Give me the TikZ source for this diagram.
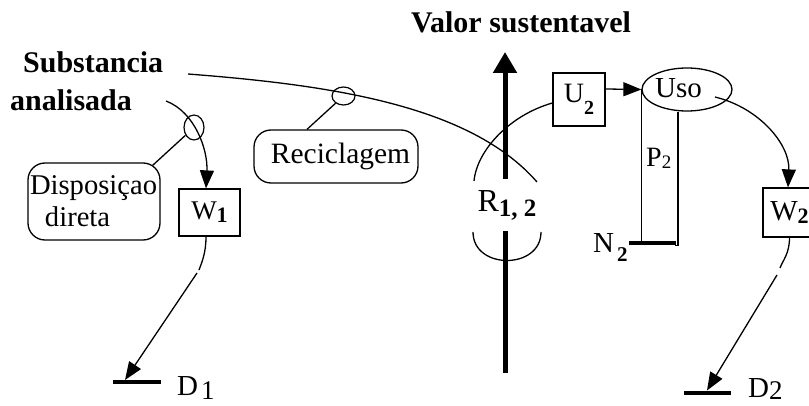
\documentclass[tikz,border=0pt]{standalone}
\usepackage{fontspec}
\setmainfont{Liberation Serif}
\usetikzlibrary{arrows.meta,shapes.geometric}
\newcommand\fsz[1]{\fontsize{#1}{#1}\selectfont}
\begin{document}
\begin{tikzpicture}[x=1pt,y=-1pt,
  thinline/.style={line width=1.3pt},
  arr/.style={line width=1.3pt,-{Triangle[length=18pt,width=14pt]}},
  box/.style={draw,line width=1.2pt,inner sep=0pt},
  rbox/.style={draw,line width=1.3pt,rounded corners=17pt,inner sep=0pt},
  ring/.style={draw,ellipse,line width=1.2pt,inner sep=0pt},
  bar/.style={line width=4.5pt},
  lbl/.style={inner sep=0pt,font=\fsz{29}},
  blbl/.style={inner sep=0pt,font=\fsz{30}\bfseries}]
\useasboundingbox (0,0) rectangle (809,406);
\clip (0,0) rectangle (809,406);
% titles
\node[blbl,anchor=base west] (subst) at (23,73) {Substancia};
\node[blbl,anchor=base west] (anal) at (10,111) {analisada};
\node[blbl,anchor=base west] (valor) at (411,33) {Valor sustentavel};
% boxes
\node[rbox,minimum width=132,minimum height=77,text width=132,align=left,
      font=\fontsize{28.6}{32}\selectfont] (disp) at (94,201.5)
      {\hspace*{2pt}Disposiçao\\\hspace*{17pt}direta};
\node[rbox,minimum width=164,minimum height=53] (recic) at (336,156.5)
      {\hspace*{9pt}\raisebox{-2pt}{\fsz{29.5}Reciclagem}};
\node[box,minimum width=61,minimum height=47] (w1) at (209.5,212.5)
      {{\fsz{27}W}\raisebox{-3pt}{\fsz{22}\bfseries 1}};
\node[box,minimum width=53,minimum height=49] (w2) at (789.5,212.5)
      {{\fsz{29}W}\raisebox{-3pt}{\fsz{22}\bfseries 2}};
\node[box,minimum width=52,minimum height=53] (u2) at (579,99.5)
      {{\fsz{28}U}\raisebox{-12pt}{\fsz{20}\bfseries 2}};
\node[ring,line width=1.3pt,minimum width=90,minimum height=43] (uso) at (687,89.5) {};
\node[lbl,anchor=base west] (usot) at (655,98) {Uso};
\node[ring,minimum width=20,minimum height=25] (c1) at (194,127.5) {};
\node[ring,minimum width=23,minimum height=18] (c2) at (343.5,96) {};
% labels
\node[inner sep=0pt,minimum height=52] (r12) at (507,205)
      {{\fsz{32}R}\raisebox{-5pt}{\fsz{25}\bfseries 1, 2}};
\node[inner sep=0pt,anchor=base west] (p2) at (646,167)
      {{\fsz{28}P}\raisebox{-2pt}{\fsz{19}2}};
\node[lbl,anchor=base west] (n2) at (593,253)
      {N\hspace{3pt}\raisebox{-9pt}{\fsz{21}\bfseries 2}};
\node[lbl,anchor=base west] (d1) at (177,395)
      {D\hspace{3pt}\raisebox{-4pt}{\fsz{27}1}};
\node[lbl,anchor=base west] (d2) at (748,397)
      {D\raisebox{-2pt}{\fsz{27}2}};
% coordinates
\coordinate (s0) at (188,74);
\coordinate (a0) at (166,101);
\coordinate (vb) at (505,373);
\coordinate (vt) at (505,52);
\coordinate (usoout) at (715,97);
\coordinate (w1brk) at (199,270);
\coordinate (w1go) at (197,273);
\coordinate (d1g) at (125,380);
\coordinate (w2brk) at (780,268);
\coordinate (w2go) at (777,275);
\coordinate (d2g) at (707,390.5);
\coordinate (nL) at (629,243);
\coordinate (nR) at (676,243);
% main curve from Substancia
\draw[thinline] (s0) .. controls (330,85) and (470,105) .. (537,182);
\draw[thinline] (c2) -- ([xshift=-29pt]recic.north);
% analisada curve to W1
\draw[arr] (a0) .. controls (195,112) and (208,150) .. ([xshift=-3.5pt]w1.north);
\draw[thinline] (c1) -- ([shift={(-8pt,-3pt)}]disp.north east);
% W1 to D1
\draw[thinline] ([xshift=-3.5pt]w1.south) .. controls +(0,16) and +(3,-8) .. (w1brk);
\draw[arr] (w1go) -- (d1g);
\draw[bar] (113,382) -- (161,382);
% loop around R
\draw[thinline] (473,232) .. controls (473,270) and (541,270) .. (541,232);
\draw[thinline] (474,181) .. controls (477,150) and (510,115) .. ([yshift=-3.5pt]u2.west);
% thick arrow
\draw[line width=5pt] (vb) -- (vb |- r12.south);
\draw[line width=5pt,-{Triangle[length=21pt,width=23pt]}] (vt |- r12.north) -- (vt);
% U2 to Uso
\draw[arr] ([yshift=10.5pt]u2.east) -- (uso.west);
% P2 column
\draw[thinline] (uso.west) -- (uso.west |- nL);
\draw[thinline] ([xshift=-9pt]uso.south) -- ++(0,134) -- ++(-3,0);
\draw[bar] (nL) -- (nR);
% Uso to W2
\draw[arr] (usoout) .. controls (760,108) and (790,145) .. ([xshift=-1.5pt]w2.north);
\draw[thinline] (w2.south) .. controls +(0,16) and +(3,-8) .. (w2brk);
\draw[arr] (w2go) -- (d2g);
\draw[bar] (684,393) -- (731,393);
\end{tikzpicture}
\end{document}
